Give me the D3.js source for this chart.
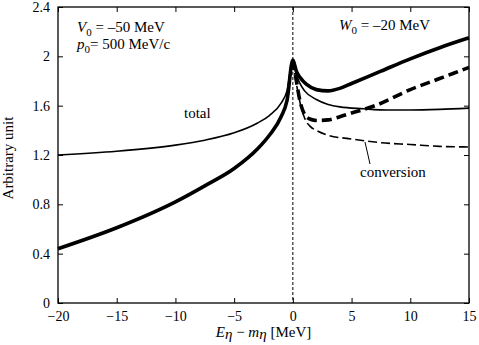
<!DOCTYPE html>
<html>
<head>
<meta charset="utf-8">
<script src="https://cdn.jsdelivr.net/npm/d3@7"></script>
<style>
  body { margin: 0; background: #fff; }
  svg { display: block; }
  svg text { font-family: "Liberation Serif", "DejaVu Serif", "Times New Roman", serif; }
</style>
</head>
<body>
<div id="vis"></div>
<script>
// curve readings, E - m_eta [MeV] vs arbitrary unit
const thickTotalE = [-20, -15, -10, -7.5, -5, -3, -2, -1, -0.5, 0, 0.3, 0.6, 1.2, 2, 3, 4, 5, 7.5, 10, 12.5, 15];
const thickTotalV = [0.44, 0.61, 0.82, 0.95, 1.09, 1.25, 1.36, 1.51, 1.64, 1.97, 1.88, 1.83, 1.77, 1.73, 1.72, 1.74, 1.78, 1.88, 1.98, 2.07, 2.15];

const thinTotalE = [-20, -15, -10, -7.5, -5, -3, -2, -1, -0.5, 0, 0.3, 0.6, 1, 2, 3, 4, 6, 8, 10, 12.5, 15];
const thinTotalV = [1.20, 1.23, 1.28, 1.32, 1.38, 1.46, 1.52, 1.62, 1.72, 1.97, 1.85, 1.78, 1.72, 1.65, 1.61, 1.59, 1.575, 1.565, 1.565, 1.57, 1.58];

const thickConvE = [0, 0.3, 0.6, 1, 1.5, 2, 3, 4, 5, 7, 10, 12.5, 15];
const thickConvV = [1.97, 1.80, 1.64, 1.53, 1.49, 1.48, 1.485, 1.51, 1.54, 1.60, 1.73, 1.82, 1.91];

const thinConvE = [0, 0.3, 0.6, 1, 1.5, 2, 3, 5, 7.5, 10, 12.5, 15];
const thinConvV = [1.97, 1.78, 1.63, 1.50, 1.43, 1.40, 1.36, 1.33, 1.30, 1.285, 1.27, 1.265];

const xTicks = [-20, -15, -10, -5, 0, 5, 10, 15];
const xTickLabels = ["\u221220", "\u221215", "\u221210", "\u22125", "0", "5", "10", "15"];
const yTicks = [0, 0.4, 0.8, 1.2, 1.6, 2, 2.4];
const yTickLabels = ["0", "0.4", "0.8", "1.2", "1.6", "2", "2.4"];

const W = 479, H = 345;
const margin = { top: 7, right: 10, bottom: 42, left: 58 };
const width = W - margin.left - margin.right;
const height = H - margin.top - margin.bottom;

const svg = d3.select("#vis").append("svg").attr("width", W).attr("height", H);
const g = svg.append("g").attr("transform", `translate(${margin.left},${margin.top})`);

const x = d3.scaleLinear().domain([-20, 15]).range([0, width]);
const y = d3.scaleLinear().domain([0, 2.4]).range([height, 0]);

// axes with inward ticks on all four sides
const fontSize = 15;
const tickFont = 14;
function styleAxis(sel) {
  sel.attr("font-family", null).attr("font-size", null);
  sel.selectAll("text").attr("font-size", tickFont).attr("fill", "#000");
  sel.selectAll(".tick line").attr("stroke", "#000");
  sel.select(".domain").remove();
}
g.append("g").attr("transform", `translate(0,${height})`)
  .call(d3.axisBottom(x).tickValues(xTicks).tickSize(-5).tickPadding(8)
    .tickFormat((d, i) => xTickLabels[i]))
  .call(styleAxis);
g.append("g")
  .call(d3.axisTop(x).tickValues(xTicks).tickSize(-5).tickFormat(""))
  .call(styleAxis);
g.append("g")
  .call(d3.axisLeft(y).tickValues(yTicks).tickSize(-5).tickPadding(8)
    .tickFormat((d, i) => yTickLabels[i]))
  .call(styleAxis);
g.append("g").attr("transform", `translate(${width},0)`)
  .call(d3.axisRight(y).tickValues(yTicks).tickSize(-5).tickFormat(""))
  .call(styleAxis);

g.append("rect")
  .attr("width", width).attr("height", height)
  .attr("fill", "none").attr("stroke", "#000").attr("stroke-width", 1.3);

// threshold line
g.append("line")
  .attr("x1", x(0)).attr("x2", x(0)).attr("y1", 0).attr("y2", height)
  .attr("stroke", "#000").attr("stroke-width", 1).attr("stroke-dasharray", "3,2");

const line = d3.line().x(d => x(d[0])).y(d => y(d[1])).curve(d3.curveMonotoneX);
function drawCurve(es, vs, w, dash) {
  g.append("path")
    .datum(d3.zip(es, vs))
    .attr("d", line)
    .attr("fill", "none")
    .attr("stroke", "#000")
    .attr("stroke-width", w)
    .attr("stroke-linejoin", "round")
    .attr("stroke-dasharray", dash);
}
drawCurve(thinTotalE, thinTotalV, 1.6, null);
drawCurve(thinConvE, thinConvV, 1.6, "9,4");
drawCurve(thickConvE, thickConvV, 3.6, "10,5");
drawCurve(thickTotalE, thickTotalV, 3.6, null);

// labels
g.append("text").attr("x", 126).attr("y", 111).attr("font-size", fontSize).text("total");
g.append("text").attr("x", 302).attr("y", 170).attr("font-size", fontSize).text("conversion");
g.append("line")
  .attr("x1", 307).attr("y1", 135).attr("x2", 312).attr("y2", 157)
  .attr("stroke", "#000").attr("stroke-width", 1);

function paramLabel(px, py, sym, rest) {
  const t = g.append("text").attr("x", px).attr("y", py).attr("font-size", fontSize);
  t.append("tspan").attr("font-style", "italic").text(sym);
  t.append("tspan").attr("font-size", 11).attr("dy", 4).text("0");
  t.append("tspan").attr("dy", -4).text(rest);
}
paramLabel(19, 25, "V", " = \u201350 MeV");
paramLabel(19, 42, "p", "= 500 MeV/c");
paramLabel(281, 23, "W", " = \u201320 MeV");

// axis titles
const xl = svg.append("text")
  .attr("x", margin.left + x(-2.5)).attr("y", 337)
  .attr("text-anchor", "middle").attr("font-size", fontSize);
xl.append("tspan").attr("font-style", "italic").text("E");
xl.append("tspan").attr("font-style", "italic").attr("dy", 2).text("\u03b7");
xl.append("tspan").attr("dy", -2).text(" \u2212 ");
xl.append("tspan").attr("font-style", "italic").text("m");
xl.append("tspan").attr("font-style", "italic").attr("dy", 2).text("\u03b7");
xl.append("tspan").attr("dy", -2).text("  [MeV]");

svg.append("text")
  .attr("transform", "translate(13,158) rotate(-90)")
  .attr("text-anchor", "middle").attr("font-size", fontSize)
  .text("Arbitrary unit");
</script>
</body>
</html>
